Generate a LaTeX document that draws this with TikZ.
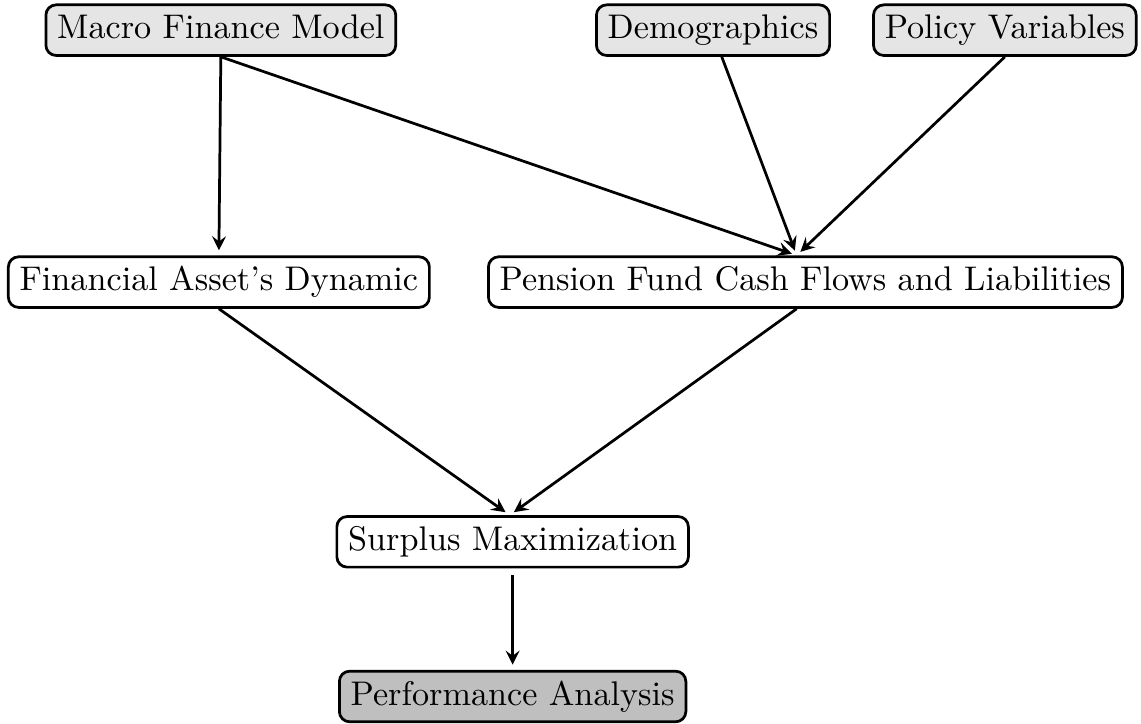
\documentclass[tikz,border=0pt]{standalone}
\usepackage{tikz}
\usetikzlibrary{arrows}
\usetikzlibrary{arrows.meta}
\usetikzlibrary{positioning}

\begin{document}
\begin{tikzpicture}[
		scale=1,
		BaseBox/.style={draw=black,thick,rounded corners=3pt,inner xsep=3.3pt,inner ysep=2.9pt,text height=7pt,text depth=2pt},
		InputBox/.style={BaseBox,fill=gray!20},
		MidBox/.style={BaseBox,fill=white},
		OutputBox/.style={BaseBox,fill=gray!50},
		Links/.style={draw=black,thick,-stealth,shorten >=1.5pt}
		]
		\useasboundingbox (0,0) rectangle (11.73,-7.44);
		
		% inputs
		\coordinate (M) at (2.27,-0.31);
		\coordinate (D) at (7.33,-0.31);
		\coordinate (P) at (10.33,-0.31);
		
		\node[InputBox] (macro) at (M) {Macro Finance Model};
		\node[InputBox] (demo) at (D) {Demographics};
		\node[InputBox] (policy) at (P) {Policy Variables};
		
		% middle layer
		\node[MidBox] (asset) at (2.25,-2.90) {Financial Asset's Dynamic};
		\node[MidBox] (pension) at (8.28,-2.90) {Pension Fund Cash Flows and Liabilities};
		\node[MidBox] (surplus) at (5.27,-5.57) {Surplus Maximization};
		
		% output
		\node[OutputBox] (perf) at (5.27,-7.16) {Performance Analysis};
		
		\draw[Links] (macro.south) -- (asset.north);
		\draw[Links] (macro.south) -- ([xshift=-0.09cm]pension.north);
		\draw[Links] ([xshift=0.09cm]demo.south) -- ([xshift=-0.09cm]pension.north);
		\draw[Links] (policy.south) -- ([xshift=-0.09cm]pension.north);
		
		\draw[Links] (asset.south) -- ([xshift=-0.03cm]surplus.north);
		\draw[Links] ([xshift=-0.09cm]pension.south) -- ([xshift=-0.03cm]surplus.north);
		
		\draw[Links,shorten <=2pt] (surplus.south) -- (perf.north);
		
		\end{tikzpicture}
\end{document}
